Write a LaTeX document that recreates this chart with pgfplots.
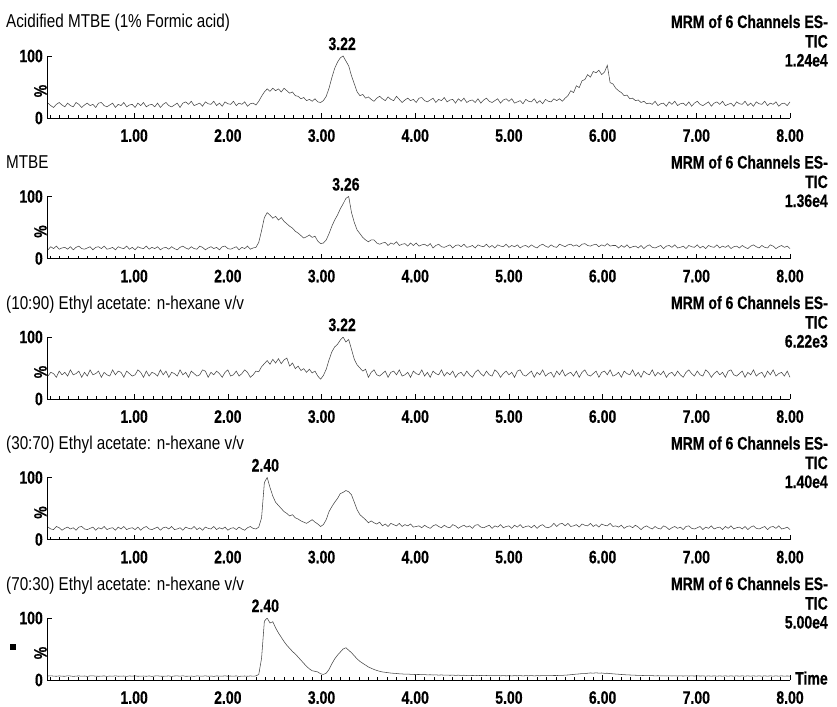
\documentclass[border=0pt]{standalone}
\usepackage{fontspec}
\setmainfont[FakeStretch=0.82,BoldFeatures={FakeStretch=0.78,FakeBold=0.5}]{Liberation Sans}
\usepackage{pgfplots}
\usepackage{pgfplotstable}
\pgfplotsset{compat=1.18}

\pgfplotstableread{
x a b c d e
0.08 24 14 37 20 6.45
0.11 20 19 43 17 6.75
0.14 17 16 41 16 6.3
0.17 22 20 35 21 6.0
0.20 25 15 45 19 6.6
0.23 21 17 39 15 6.15
0.26 18 18 43 18 6.0
0.29 24 15 37 20 6.75
0.32 20 19 47 17 6.45
0.35 18 14 39 19 5.85
0.38 25 18 41 15 6.3
0.41 22 20 45 20 6.6
0.44 17 16 35 21 6.15
0.47 21 15 43 17 6.45
0.50 24 17 37 16 5.85
0.53 20 19 47 18 6.6
0.56 22 14 39 20 6.75
0.59 17 18 41 15 6.15
0.62 24 19 45 19 6.0
0.65 25 16 35 17 6.3
0.68 20 20 43 21 6.6
0.71 18 15 39 16 5.85
0.74 21 16 37 18 6.45
0.77 24 18 47 19 6.15
0.80 17 14 39 15 6.75
0.83 22 19 45 20 6.0
0.86 20 17 43 17 6.3
0.89 25 16 35 21 6.45
0.92 18 20 45 16 5.85
0.95 21 15 41 18 6.6
0.98 22 18 37 19 6.15
1.01 17 14 39 16 6.75
1.04 24 19 47 20 6.0
1.07 20 17 43 15 6.3
1.10 25 16 35 19 6.45
1.13 18 20 45 21 6.0
1.16 21 15 37 17 6.6
1.19 22 18 43 16 5.85
1.22 18 16 41 18 6.45
1.25 24 19 37 20 6.75
1.28 17 14 47 15 6.15
1.31 22 17 39 19 6.0
1.34 25 18 45 20 6.3
1.37 20 15 35 17 6.6
1.40 18 19 43 21 5.85
1.43 21 16 41 16 6.45
1.46 24 14 37 17 6.6
1.49 17 18 47 19 6.15
1.52 24 20 39 15 6.75
1.55 26 17 43 20 6.0
1.58 22 15 35 18 6.15
1.61 27 19 45 17 6.45
1.64 20 16 41 21 5.85
1.67 22 15 37 16 6.6
1.70 24 20 39 19 6.3
1.73 19 18 47 15 6.15
1.76 26 14 45 20 6.75
1.79 23 17 35 18 6.0
1.82 22 19 43 17 6.45
1.85 27 16 39 21 5.85
1.88 20 18 45 16 6.6
1.91 24 14 41 19 6.3
1.94 19 19 35 17 6.15
1.97 26 20 43 20 6.75
2.00 23 16 47 15 6.0
2.03 22 15 37 18 6.45
2.06 27 17 39 19 6.15
2.09 20 19 45 16 6.6
2.12 24 14 37 20 5.85
2.15 22 18 41 17 6.3
2.18 26 16 47 15 6.45
2.21 19 20 43 19 6.0
2.24 23 15 35 21 6.6
2.27 24 17 39 18 6.15
2.30 21 18 45 17 6.6
2.33 27 26 44 20 9
2.36 35 45 52 35 35
2.39 42 66 57 92 95
2.42 47 74 62 100 100
2.45 43 70 56 84 92
2.48 48 65 64 70 94
2.51 44 68 58 60 84
2.54 47 62 65 55 76
2.57 42 66 57 50 69
2.60 48 60 63 45 62
2.63 44 56 66 42 56
2.66 40 52 53 38 51
2.69 42 49 58 40 46
2.72 36 44 49 35 42
2.75 35 41 53 33 37
2.78 31 37 46 30 32
2.81 33 33 49 28 27
2.84 28 35 43 26 22
2.87 30 38 48 29 18
2.90 27 34 42 32 15
2.93 31 36 45 28 14
2.96 26 28 37 25 13
2.99 25 24 32 21 10
3.02 28 25 38 24 9
3.05 35 30 48 32 11
3.08 48 40 63 45 17
3.11 65 52 76 53 26
3.14 80 62 84 60 34
3.17 90 70 88 66 40
3.20 97 80 95 74 45
3.23 100 88 100 76 50
3.26 92 97 92 79 52
3.29 84 100 96 77 48
3.32 68 74 80 72 44
3.35 55 58 64 60 39
3.38 42 46 55 48 34
3.41 36 40 50 40 30
3.44 38 34 45 36 27
3.47 32 30 48 32 24
3.50 34 27 35 27 21
3.53 30 30 43 30 19
3.56 27 30 47 27 17
3.59 32 25 39 25 15.5
3.62 35 23 37 28 14
3.65 31 25 41 22 13
3.68 28 26 45 25 12.4
3.71 34 21 35 21 11.8
3.74 30 25 43 26 11.2
3.77 28 23 45 24 10.8
3.80 35 27 39 22 10.5
3.83 30 21 47 26 10
3.86 25 23 37 21 9.8
3.89 29 24 39 24 9.4
3.92 32 20 43 22 9.6
3.95 28 25 35 25 9.2
3.98 30 21 45 20 9.0
4.01 25 25 41 21 8.8
4.04 32 20 39 22 8.9
4.07 33 22 47 19 8.5
4.10 28 23 37 23 8.7
4.13 26 20 43 20 8.3
4.16 29 24 35 18 8.5
4.19 32 17 45 22 8.1
4.22 25 21 41 24 8.3
4.25 30 23 39 21 7.9
4.28 28 19 47 19 8.2
4.31 33 18 37 23 7.8
4.34 26 20 43 20 8.0
4.37 29 22 39 19 7.6
4.40 30 17 45 24 7.9
4.43 24 21 35 22 7.5
4.46 31 22 41 18 7.8
4.49 27 19 43 21 7.4
4.52 32 23 37 23 7.7
4.55 25 18 45 20 7.3
4.58 28 19 39 22 7.6
4.61 29 21 35 18 7.2
4.64 25 17 43 23 7.5
4.67 31 22 47 24 7.1
4.70 24 20 41 20 7.4
4.73 29 19 37 19 7.0
4.76 32 23 45 21 7.3
4.79 27 18 39 23 6.9
4.82 25 21 37 18 7.2
4.85 28 17 47 22 6.9
4.88 31 22 43 20 7.1
4.91 24 20 35 24 6.8
4.94 29 19 41 19 7.1
4.97 31 23 45 21 6.8
5.00 27 18 39 22 7.0
5.03 31 21 43 18 6.7
5.06 24 19 35 23 7.0
5.09 26 22 45 20 6.8
5.12 28 17 47 24 7.1
5.15 23 20 39 19 6.7
5.18 30 21 37 21 7.0
5.21 27 18 41 22 6.8
5.24 26 22 45 19 7.1
5.27 31 19 35 23 6.7
5.30 24 17 43 18 7.0
5.33 28 21 39 22 6.8
5.36 23 23 47 24 7.2
5.39 30 20 37 20 6.9
5.42 27 18 41 19 7.1
5.45 26 22 43 21 7.0
5.48 31 19 35 26 7.3
5.51 28 18 45 21 7.2
5.54 31 23 39 25 7.5
5.57 27 21 47 26 7.4
5.60 32 19 37 22 7.9
5.63 36 22 41 26 8.1
5.66 44 23 43 21 8.6
5.69 41 20 37 22 9.0
5.72 52 22 45 24 9.5
5.75 49 19 35 20 9.8
5.78 60 23 43 25 10.4
5.81 62 24 47 23 10.2
5.84 70 21 39 22 10.9
5.87 66 20 37 26 11.4
5.90 75 22 41 21 11.0
5.93 73 23 45 24 11.6
5.96 77 19 35 20 11.1
5.99 70 22 43 25 11.3
6.02 74 20 45 23 10.8
6.05 85 24 39 22 10.9
6.08 57 20 47 26 10.3
6.11 55 21 37 21 10.0
6.14 48 21 39 22 9.6
6.17 44 17 43 20 9.3
6.20 41 21 35 23 8.9
6.23 36 18 45 18 8.6
6.26 37 22 41 21 8.3
6.29 31 17 39 22 8.1
6.32 32 19 47 19 7.9
6.35 28 20 37 23 7.7
6.38 29 17 43 20 7.5
6.41 25 21 35 16 7.4
6.44 27 16 45 20 7.2
6.47 23 20 41 22 7.0
6.50 24 22 39 19 6.9
6.53 22 18 47 17 7.0
6.56 27 17 37 21 6.7
6.59 20 19 43 18 6.9
6.62 23 21 39 17 6.6
6.65 24 16 45 22 6.8
6.68 19 20 35 20 6.5
6.71 26 21 41 16 6.8
6.74 22 18 43 19 6.5
6.77 27 22 37 21 6.8
6.80 20 17 45 18 6.4
6.83 23 18 39 20 6.7
6.86 24 20 35 16 6.4
6.89 20 16 43 21 6.7
6.92 26 21 47 22 6.4
6.95 19 19 41 18 6.7
6.98 24 18 37 17 6.4
7.01 27 22 45 19 6.7
7.04 22 17 39 21 6.4
7.07 20 20 37 16 6.6
7.10 23 16 47 20 6.3
7.13 26 21 43 18 6.6
7.16 19 19 35 22 6.3
7.19 24 18 41 17 6.6
7.22 26 22 45 19 6.3
7.25 22 17 39 20 6.6
7.28 27 20 43 16 6.3
7.31 20 18 35 21 6.6
7.34 22 21 45 18 6.3
7.37 24 16 47 22 6.6
7.40 19 19 39 17 6.3
7.43 26 20 37 19 6.6
7.46 23 17 41 20 6.3
7.49 22 21 45 17 6.6
7.52 27 18 35 21 6.3
7.55 20 16 43 16 6.6
7.58 24 20 39 20 6.3
7.61 19 22 47 22 6.6
7.64 26 19 37 18 6.3
7.67 23 17 41 17 6.6
7.70 22 21 43 19 6.3
7.73 27 18 35 21 6.6
7.76 20 17 45 16 6.3
7.79 24 22 39 20 6.6
7.82 22 20 47 21 6.3
7.85 26 16 37 18 6.6
7.88 19 19 41 22 6.3
7.91 23 21 43 17 6.6
7.94 24 18 37 18 6.3
7.97 20 20 45 20 6.5
8.00 26 16 35 16 6.3
}\chrom

\newcommand\ttlfont{\fontsize{18.6}{20}\selectfont}
\newcommand\bfont{\fontsize{18}{20}\selectfont\bfseries}

\pgfplotsset{
  chrom/.style={
    scale only axis, width=743pt, height=62pt,
    xmin=0.07, xmax=8.0, ymin=0, ymax=100,
    axis x line=bottom, axis y line=left,
    axis line style={-, line width=0.6pt, black},
    every tick/.style={black, line width=0.5pt},
    tick align=inside,
    xtick={1,2,3,4,5,6,7,8},
    xticklabels={1.00,2.00,3.00,4.00,5.00,6.00,7.00,8.00},
    minor xtick={0.1,0.2,...,7.95},
    major tick length=5pt, minor tick length=3pt,
    ytick={0,100}, yticklabels={0,100},
    minor ytick={},
    xticklabel style={font=\bfont, anchor=north, inner sep=0pt, yshift=-11pt},
    yticklabel style={font=\bfont, anchor=east, inner sep=0pt, xshift=-4pt},
    ylabel={\%},
    ylabel style={font=\bfont, at={(rel axis cs:0,0.5)}, anchor=south, inner sep=0pt, xshift=-4pt},
    clip mode=individual,
  },
  trace/.style={black!72, line width=0.55pt, mark=none},
}
\tikzset{
  pk/.style={font=\bfont, anchor=base, inner sep=0pt, yshift=6pt},
  ttl/.style={font=\ttlfont, anchor=base west, inner sep=0pt},
  rt/.style={font=\bfont, anchor=base east, inner sep=0pt},
}

\begin{document}
\begin{tikzpicture}[x=1pt,y=1pt]
\useasboundingbox (0,0) rectangle (837,-706);

% panel 1
\begin{axis}[chrom, at={(47pt,-118pt)}, anchor=south west]
\addplot[trace] table[x=x,y=a]{\chrom};
\node[pk] at (axis cs:3.22,100) {3.22};
\end{axis}
\node[ttl] at (6,-28) {Acidified MTBE (1\% Formic acid)};
\node[rt] at (828,-28) {MRM of 6 Channels ES-};
\node[rt] at (828,-47.5) {TIC};
\node[rt] at (828,-66.5) {1.24e4};

% panel 2
\begin{axis}[chrom, at={(47pt,-258.5pt)}, anchor=south west]
\addplot[trace] table[x=x,y=b]{\chrom};
\node[pk] at (axis cs:3.26,100) {3.26};
\end{axis}
\node[ttl] at (6,-168.5) {MTBE};
\node[rt] at (828,-168.5) {MRM of 6 Channels ES-};
\node[rt] at (828,-188) {TIC};
\node[rt] at (828,-207) {1.36e4};

% panel 3
\begin{axis}[chrom, at={(47pt,-399pt)}, anchor=south west]
\addplot[trace] table[x=x,y=c]{\chrom};
\node[pk] at (axis cs:3.22,100) {3.22};
\end{axis}
\node[ttl] at (6,-309) {(10:90) Ethyl acetate: n-hexane v/v};
\node[rt] at (828,-309) {MRM of 6 Channels ES-};
\node[rt] at (828,-328.5) {TIC};
\node[rt] at (828,-347.5) {6.22e3};

% panel 4
\begin{axis}[chrom, at={(47pt,-539.5pt)}, anchor=south west]
\addplot[trace] table[x=x,y=d]{\chrom};
\node[pk] at (axis cs:2.40,100) {2.40};
\end{axis}
\node[ttl] at (6,-449.5) {(30:70) Ethyl acetate: n-hexane v/v};
\node[rt] at (828,-449.5) {MRM of 6 Channels ES-};
\node[rt] at (828,-469) {TIC};
\node[rt] at (828,-488) {1.40e4};

% panel 5
\begin{axis}[chrom, at={(47pt,-680pt)}, anchor=south west]
\addplot[trace] table[x=x,y=e]{\chrom};
\node[pk] at (axis cs:2.40,100) {2.40};
\node[font=\bfont, anchor=west, inner sep=0pt, xshift=5pt] at (rel axis cs:1,0.03) {Time};
\end{axis}
\node[ttl] at (6,-590) {(70:30) Ethyl acetate: n-hexane v/v};
\node[rt] at (828,-590) {MRM of 6 Channels ES-};
\node[rt] at (828,-609.5) {TIC};
\node[rt] at (828,-628.5) {5.00e4};
\fill[black] (10,-644) rectangle (15.5,-650);
\end{tikzpicture}
\end{document}
